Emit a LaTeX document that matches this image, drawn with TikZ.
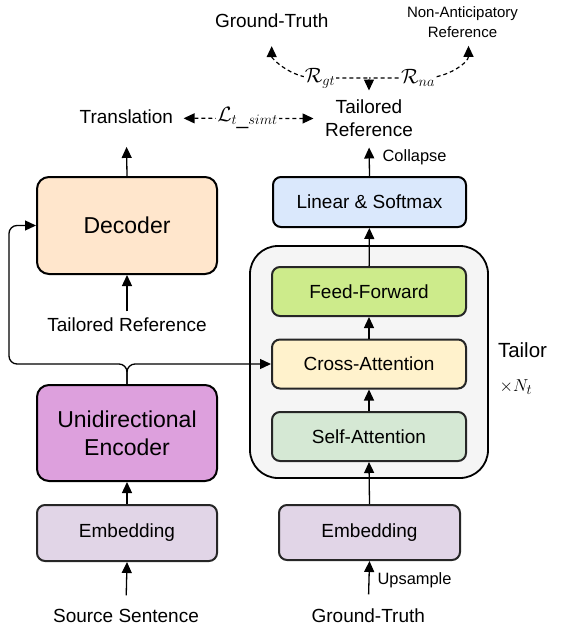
\documentclass[tikz,border=0pt]{standalone}
\usepackage{fontspec}
\setmainfont{Liberation Sans}
\usepackage{xcolor}
\usetikzlibrary{arrows.meta}

\definecolor{decfill}{HTML}{FFE6CC}
\definecolor{encfill}{HTML}{DDA0DD}
\definecolor{embfill}{HTML}{E1D5E7}
\definecolor{linfill}{HTML}{DAE8FC}
\definecolor{fffill}{HTML}{CDEB8B}
\definecolor{cafill}{HTML}{FFF2CC}
\definecolor{safill}{HTML}{D5E8D4}
\definecolor{tailfill}{HTML}{F5F5F5}

\tikzset{
  blk/.style={draw=black, line width=2pt, rounded corners=12pt, minimum width=180pt,
    inner sep=0pt, align=center, font=\fontsize{23}{28}\selectfont},
  sub/.style={draw=black!85, line width=2pt, rounded corners=8pt, minimum width=194pt,
    minimum height=49pt, inner sep=0pt, font=\fontsize{19}{22}\selectfont},
  lbl/.style={font=\fontsize{19}{22.7}\selectfont, align=center, inner sep=2pt,
    text height=14pt, text depth=4pt},
  sml/.style={font=\fontsize{16.4}{20}\selectfont, inner sep=0pt},
  mlbl/.style={font=\fontsize{21}{24}\selectfont, fill=white, inner sep=1pt},
  dsh/.style={dash pattern=on 4pt off 3pt, line width=1.2pt},
}

\begin{document}
\begin{tikzpicture}[x=1pt, y=-1pt, >={Triangle[length=11pt,width=10pt]}, line width=1.3pt]
\useasboundingbox (0,0) rectangle (562,634);

% left column
\node[blk, fill=decfill, minimum height=97pt] (dec) at (127,225.5) {Decoder};
\node[lbl] (tref1) at (127,326) {Tailored Reference};
\node[blk, fill=encfill, minimum height=96pt] (enc) at (127,433) {Unidirectional\\Encoder};
\node[sub, fill=embfill, minimum width=180pt, minimum height=56pt] (emb1) at (127,533) {Embedding};
\node[lbl] (src) at (126,617) {Source Sentence};
\node[lbl] (trans) at (126.3,118.3) {Translation};

% right column
\node[draw=black, line width=1.8pt, fill=tailfill, rounded corners=28pt,
  minimum width=238pt, minimum height=232pt] (tailor) at (369,362) {};
\node[sub, fill=fffill] (ff) at (369,291.5) {Feed-Forward};
\node[sub, fill=cafill] (ca) at (369,364) {Cross-Attention};
\node[sub, fill=safill] (sa) at (369,436.5) {Self-Attention};
\node[sub, draw=black, fill=linfill, minimum width=193pt, minimum height=50pt] (lin) at (369.5,202) {Linear \& Softmax};
\node[sub, fill=embfill, minimum width=181pt, minimum height=55pt] (emb2) at (369.5,532.5) {Embedding};
\node[lbl] (gt2) at (368.3,617) {Ground-Truth};
\node[font=\fontsize{19}{22.7}\selectfont, align=center, inner sep=2pt] (tref2) at (369,118.5) {Tailored\\Reference};
\node[font=\fontsize{20.5}{24}\selectfont] (tlab) at (522.5,350) {Tailor};
\node[font=\fontsize{19}{22}\selectfont] (nt) at (516,387) {$\times N_t$};
\node[sml, anchor=west] (col) at (382,157) {Collapse};
\node[sml, anchor=west] (ups) at (377,580) {Upsample};

% top
\node[lbl] (gt1) at (271.7,22.5) {Ground-Truth};
\node[font=\fontsize{15}{20}\selectfont, align=center, inner sep=2pt] (na) at (462.5,21.7) {Non-Anticipatory\\Reference};
\coordinate (meet) at (369,78);

% arrows
\draw[->, shorten <=10pt] (src.north) -- (emb1.south);
\draw[->] (emb1.north) -- (enc.south);
\draw[->, shorten <=3pt] (tref1.north) -- (dec.south);
\draw[->, shorten >=17pt] (dec.north) -- (trans.south);
\draw[->, rounded corners=8pt] (enc.north) -- (enc.north |- ca.west) -- ++(-118,0) |- (dec.west);
\draw[->, rounded corners=8pt] (enc.north) -- (enc.north |- ca.west) -- (ca.west);

\draw[->, shorten <=11pt] (gt2.north) -- (emb2.south);
\draw[->] (emb2.north) -- (sa.south);
\draw[->] (sa) -- (ca);
\draw[->] (ca) -- (ff);
\draw[->] (ff) -- (lin);
\draw[->, shorten >=8pt] (lin.north) -- (tref2.south);

% dashed links
\draw[dsh, <->, shorten <=8pt, shorten >=9pt] (trans.east) -- (tref2.west);
\draw[dsh, <->, shorten <=12pt, shorten >=7pt] (gt1.south) to[out=-90, in=180] (315,78) -- (meet) -- (tref2.north);
\draw[dsh, <-, shorten <=6pt] ([xshift=6pt]na.south) to[out=-90, in=0] (425,78) -- (meet);
\node[mlbl] (lsimt) at (247.5,118) {$\mathcal{L}_{t\_simt}$};
\node[mlbl] (rgt) at (320,78) {$\mathcal{R}_{gt}$};
\node[mlbl] (rna) at (418,78) {$\mathcal{R}_{na}$};
\end{tikzpicture}
\end{document}
